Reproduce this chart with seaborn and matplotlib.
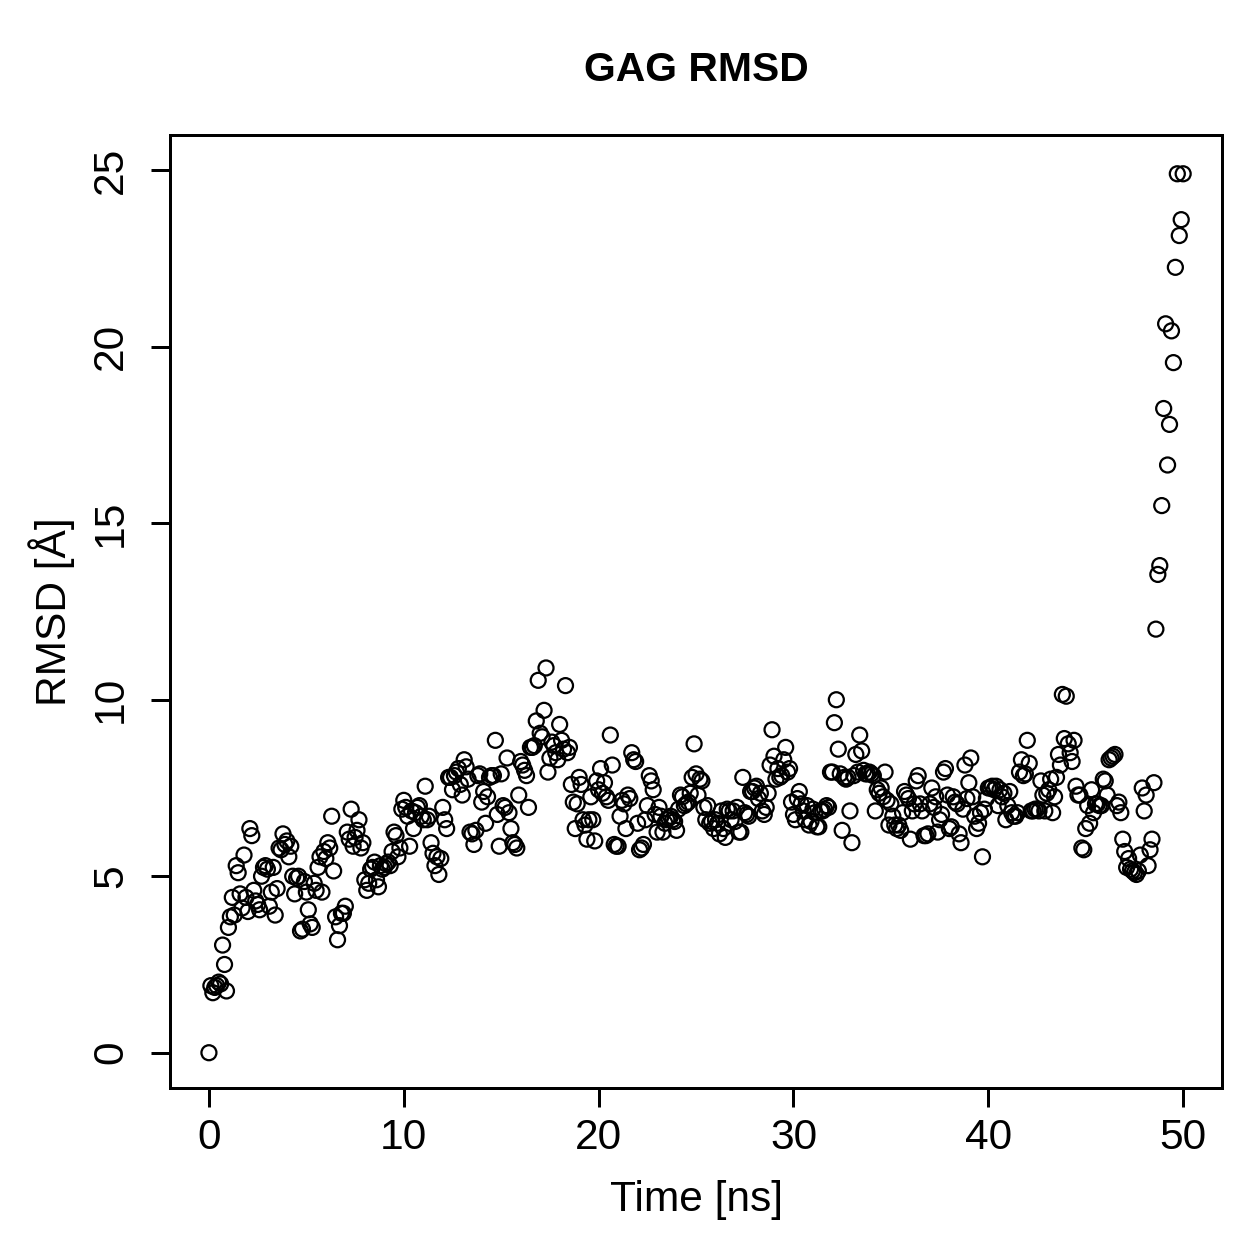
import numpy as np
import pandas as pd
import matplotlib
matplotlib.use("Agg")
import matplotlib.pyplot as plt
import seaborn as sns

# RMSD values, one row per ns (10 frames per ns)
rmsd_0_10 = [0.0, 1.9, 1.7, 1.85, 1.9, 2.0, 1.95, 3.05, 2.5, 1.75,
             3.55, 3.85, 4.4, 3.9, 5.3, 5.1, 4.5, 4.1, 5.6, 4.4,
             4.0, 6.35, 6.15, 4.6, 4.3, 4.2, 4.05, 5.0, 5.25, 5.3,
             5.2, 4.15, 4.55, 5.25, 3.9, 4.65, 5.8, 5.75, 6.2, 5.9,
             6.0, 5.55, 5.85, 5.0, 4.5, 4.95, 5.0, 3.45, 3.5, 4.85,
             4.55, 4.05, 3.65, 3.55, 4.8, 4.6, 5.25, 5.55, 4.55, 5.7,
             5.5, 5.95, 5.8, 6.7, 5.15, 3.85, 3.2, 3.6, 3.95, 3.95,
             4.15, 6.25, 6.05, 6.9, 5.85, 6.1, 6.3, 6.6, 5.8, 5.95,
             4.9, 4.6, 4.8, 5.2, 5.25, 5.4, 4.9, 4.7, 5.3, 5.2,
             5.25, 5.35, 5.4, 5.3, 5.7, 6.25, 6.15, 5.55, 5.8, 6.9]
rmsd_10_20 = [7.15, 6.95, 6.7, 5.85, 6.85, 6.35, 6.8, 6.95, 7.0, 6.7,
              6.6, 7.55, 6.6, 6.7, 5.95, 5.65, 5.3, 5.55, 5.05, 5.5,
              6.95, 6.6, 6.35, 7.8, 7.8, 7.45, 7.85, 7.95, 8.05, 7.6,
              7.3, 8.3, 8.1, 7.75, 6.25, 6.2, 5.9, 6.3, 7.85, 7.9,
              7.1, 7.4, 6.5, 7.25, 7.8, 7.85, 7.85, 8.85, 6.75, 5.85,
              7.9, 7.0, 6.95, 8.35, 6.8, 6.35, 5.95, 5.9, 5.8, 7.3,
              8.25, 8.15, 8.0, 7.85, 6.95, 8.65, 8.65, 8.7, 9.4, 10.55,
              9.05, 8.95, 9.7, 10.9, 7.95, 8.35, 8.8, 8.7, 8.5, 8.3,
              9.3, 8.85, 8.6, 10.4, 8.5, 8.65, 7.6, 7.1, 6.35, 7.05,
              7.8, 7.6, 6.6, 6.45, 6.05, 6.6, 7.25, 6.6, 6.0, 7.7]
rmsd_20_30 = [7.45, 8.05, 7.35, 7.65, 7.25, 7.15, 9.0, 8.15, 5.9, 5.85,
              5.85, 6.7, 7.15, 7.05, 6.35, 7.3, 7.2, 8.5, 8.3, 8.25,
              6.5, 5.75, 5.8, 5.9, 6.6, 7.0, 7.85, 7.7, 7.45, 6.75,
              6.25, 6.95, 6.7, 6.25, 6.5, 6.6, 6.65, 6.7, 6.6, 6.55,
              6.3, 6.9, 7.3, 7.25, 7.0, 7.05, 7.1, 7.35, 7.8, 8.75,
              7.9, 7.3, 7.75, 7.7, 6.95, 6.6, 7.0, 6.5, 6.55, 6.35,
              6.6, 6.5, 6.2, 6.85, 6.35, 6.1, 6.9, 6.85, 6.6, 6.85,
              6.55, 6.95, 6.25, 6.25, 7.8, 6.8, 6.75, 6.7, 7.4, 7.4,
              7.5, 7.55, 7.2, 7.35, 6.85, 6.75, 6.95, 7.35, 8.15, 9.15,
              8.4, 7.75, 8.05, 7.8, 7.85, 8.3, 8.65, 7.95, 8.05, 7.1]
rmsd_30_40 = [6.75, 6.6, 7.2, 7.4, 7.05, 6.85, 6.6, 7.0, 6.45, 6.55,
              6.9, 6.8, 6.4, 6.4, 6.85, 6.85, 6.9, 7.0, 6.95, 7.95,
              7.95, 9.35, 10.0, 8.6, 7.9, 6.3, 7.8, 7.75, 7.8, 6.85,
              5.95, 7.85, 8.45, 7.95, 9.0, 8.55, 8.0, 7.9, 7.9, 7.95,
              7.9, 7.85, 6.85, 7.45, 7.35, 7.5, 7.25, 7.95, 7.15, 6.45,
              7.05, 6.7, 6.45, 6.35, 6.45, 6.3, 6.8, 7.4, 7.3, 7.2,
              6.05, 6.85, 7.05, 7.7, 7.85, 7.05, 6.85, 6.15, 6.15, 6.2,
              7.05, 7.5, 6.95, 7.25, 6.25, 6.6, 6.75, 7.95, 8.05, 7.3,
              6.35, 6.4, 7.25, 7.1, 7.05, 6.2, 5.95, 6.9, 8.15, 7.2,
              7.65, 8.35, 7.25, 6.7, 6.35, 6.5, 6.8, 5.55, 6.9, 7.2]
rmsd_40_50 = [7.5, 7.5, 7.55, 7.45, 7.55, 7.0, 7.45, 7.25, 7.35, 6.6,
              7.0, 7.4, 6.8, 6.7, 6.7, 6.8, 7.95, 8.3, 7.85, 7.9,
              8.85, 8.2, 6.85, 6.85, 6.9, 6.9, 6.85, 7.7, 7.3, 6.85,
              7.35, 7.45, 7.75, 6.8, 7.25, 7.8, 8.45, 8.15, 10.15, 8.9,
              10.1, 8.75, 8.5, 8.25, 8.85, 7.55, 7.3, 7.3, 5.8, 5.75,
              6.35, 7.0, 6.5, 7.45, 6.8, 7.05, 7.05, 7.0, 7.0, 7.75,
              7.7, 7.3, 8.3, 8.35, 8.4, 8.45, 7.0, 7.1, 6.8, 6.05,
              5.7, 5.25, 5.5, 5.2, 5.15, 5.1, 5.05, 5.15, 5.6, 7.5,
              6.85, 7.3, 5.3, 5.75, 6.05, 7.65, 12.0, 13.55, 13.8, 15.5,
              18.25, 20.65, 16.65, 17.8, 20.45, 19.55, 22.25, 24.9, 23.15, 23.6,
              24.9]

rmsd = rmsd_0_10 + rmsd_10_20 + rmsd_20_30 + rmsd_30_40 + rmsd_40_50
time_ns = np.round(np.arange(len(rmsd)) * 0.1, 1)
df = pd.DataFrame({"time": time_ns, "rmsd": rmsd})

x_ticks = [0, 10, 20, 30, 40, 50]
y_ticks = [0, 5, 10, 15, 20, 25]

sns.set_style("ticks")
plt.rcParams["font.family"] = ["Liberation Sans", "DejaVu Sans"]
plt.rcParams["text.color"] = "black"

fig = plt.figure(figsize=(7, 7), dpi=179.86)
ax = fig.add_axes([0.135, 0.1358, 0.8357, 0.757])

sns.scatterplot(data=df, x="time", y="rmsd", ax=ax, marker="o", s=36,
                facecolor="none", edgecolor="black", linewidth=0.9)

ax.set_xlim(-2, 52)
ax.set_ylim(-1.0, 26.0)
ax.set_xticks(x_ticks)
ax.set_yticks(y_ticks)
ax.set_xticklabels([str(v) for v in x_ticks])
ax.set_yticklabels([str(v) for v in y_ticks], rotation=90, va="center")
ax.tick_params(axis="both", length=7.6, width=1.2, labelsize=17, colors="black")
ax.tick_params(axis="x", pad=4.5)
ax.tick_params(axis="y", pad=8)
for sp in ax.spines.values():
    sp.set_visible(True)
    sp.set_linewidth(1.2)
    sp.set_color("black")
ax.set_xlabel("")
ax.set_ylabel("")

fig.text(0.553, 1 - 70 / 1259, "GAG RMSD", ha="center", va="center",
         fontsize=16.4, fontweight="bold")
fig.text(0.553, 1 - 1200 / 1259, "Time [ns]", ha="center", va="center", fontsize=17)
fig.text(52 / 1259, 0.514, "RMSD [Å]", ha="center", va="center", fontsize=17, rotation=90)

fig.savefig("out.png", dpi=179.86)
